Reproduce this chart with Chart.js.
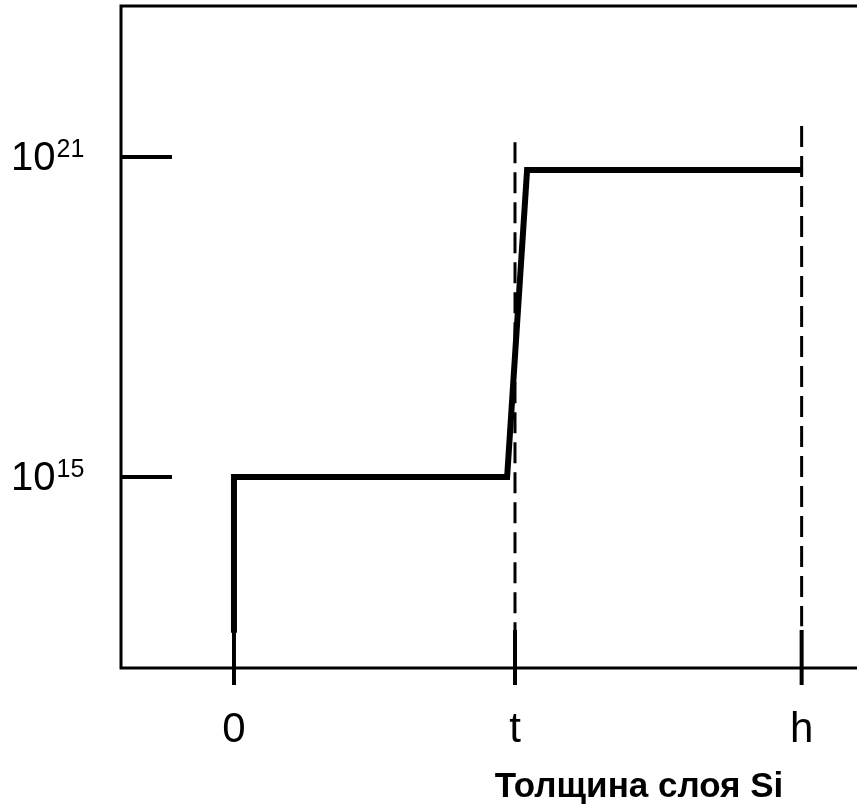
<!DOCTYPE html>
<html>
<head>
<meta charset="utf-8">
<script src="https://cdn.jsdelivr.net/npm/chart.js@4"></script>
<style>
  html, body { margin: 0; padding: 0; background: #fff; overflow: hidden; }
  #wrap { width: 857px; height: 807px; }
</style>
</head>
<body>
<div id="wrap"><canvas id="chart"></canvas></div>
<script>
// profile: thickness (t = 1) vs concentration
var thickness = [0, 0, 0.972, 1.043, 2.025];
var concentration = [1.2e12, 1e15, 1e15, 5.7e20, 5.7e20];

// dashed guides at t and h
var guideT = { x: [1, 1], y: [1.9e21, 1.35e12] };
var guideH = { x: [2.02, 2.02], y: [3.8e21, 1.6e12] };

var xTickValues = [0, 1, 2.02];
var xTickLabels = ["0", "t", "h"];
var yTickExponents = [15, 21];
var xTitle = "Толщина слоя Si";

var FONT = "'Liberation Sans', Arial, sans-serif";

function toPoints(xs, ys) {
  var pts = [];
  for (var i = 0; i < xs.length; i++) pts.push({ x: xs[i], y: ys[i] });
  return pts;
}

var framePlugin = {
  id: "frame",
  beforeDatasetsDraw: function(chart) {
    var ctx = chart.ctx, a = chart.chartArea;
    var xs = chart.scales.x, ys = chart.scales.y;
    ctx.save();
    ctx.strokeStyle = "#000";
    ctx.lineCap = "butt";
    ctx.lineWidth = 3;
    ctx.beginPath();
    ctx.moveTo(chart.width, a.top);
    ctx.lineTo(a.left, a.top);
    ctx.lineTo(a.left, a.bottom);
    ctx.lineTo(chart.width, a.bottom);
    ctx.stroke();

    // y ticks, inside the frame
    ctx.lineWidth = 4;
    yTickExponents.forEach(function(e) {
      var py = ys.getPixelForValue(Math.pow(10, e));
      ctx.beginPath();
      ctx.moveTo(a.left, py);
      ctx.lineTo(a.left + 51, py);
      ctx.stroke();
    });
    // x ticks, crossing the axis
    xTickValues.forEach(function(v) {
      var px = xs.getPixelForValue(v);
      ctx.beginPath();
      ctx.moveTo(px, a.bottom - 38);
      ctx.lineTo(px, a.bottom + 17);
      ctx.stroke();
    });
    ctx.restore();
  },
  afterDraw: function(chart) {
    var ctx = chart.ctx, a = chart.chartArea;
    var xs = chart.scales.x, ys = chart.scales.y;
    ctx.save();
    ctx.fillStyle = "#000";
    ctx.textBaseline = "alphabetic";

    yTickExponents.forEach(function(e) {
      var py = ys.getPixelForValue(Math.pow(10, e));
      ctx.font = "40px " + FONT;
      ctx.textAlign = "left";
      ctx.fillText("10", 11, py + 13);
      var w = ctx.measureText("10").width;
      ctx.font = "25px " + FONT;
      ctx.fillText(String(e), 11 + w + 1, py + 0);
    });

    ctx.font = "42px " + FONT;
    ctx.textAlign = "center";
    xTickValues.forEach(function(v, i) {
      ctx.fillText(xTickLabels[i], xs.getPixelForValue(v), 742);
    });

    ctx.font = "bold 35px " + FONT;
    ctx.fillText(xTitle, 639, 797);
    ctx.restore();
  }
};

var ctx = document.getElementById("chart");
var myChart = new Chart(ctx, {
  type: "line",
  data: {
    datasets: [
      {
        label: "profile",
        data: toPoints(thickness, concentration),
        borderColor: "#000",
        borderWidth: 6,
        borderJoinStyle: "miter",
        borderCapStyle: "butt",
        pointRadius: 0,
        tension: 0,
        fill: false
      },
      {
        label: "t",
        data: toPoints(guideT.x, guideT.y),
        borderColor: "#000",
        borderWidth: 3,
        borderDash: [21, 9],
        borderCapStyle: "butt",
        pointRadius: 0,
        fill: false
      },
      {
        label: "h",
        data: toPoints(guideH.x, guideH.y),
        borderColor: "#000",
        borderWidth: 3,
        borderDash: [21, 9],
        borderCapStyle: "butt",
        pointRadius: 0,
        fill: false
      }
    ]
  },
  options: {
    responsive: true,
    maintainAspectRatio: false,
    animation: false,
    layout: { padding: { left: 121, top: 6, right: 0, bottom: 139 } },
    plugins: { legend: { display: false }, tooltip: { enabled: false } },
    scales: {
      x: {
        type: "linear",
        display: false,
        bounds: "data",
        min: -0.402,
        max: 2.217
      },
      y: {
        type: "logarithmic",
        display: false,
        bounds: "data",
        min: Math.pow(10, 11.419),
        max: Math.pow(10, 23.831)
      }
    }
  },
  plugins: [framePlugin]
});
</script>
</body>
</html>
